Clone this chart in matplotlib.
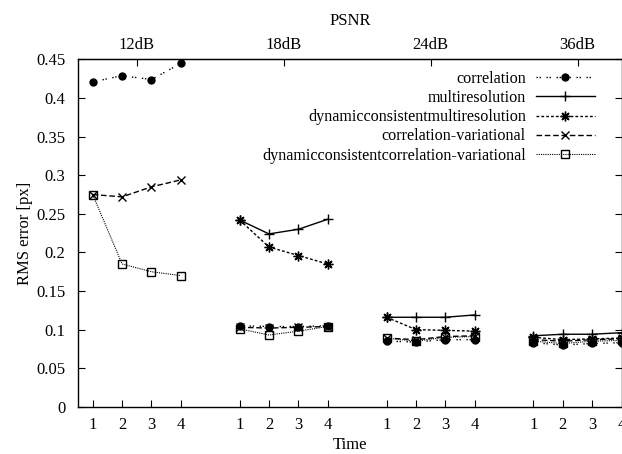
import numpy as np
import matplotlib
matplotlib.use('Agg')
import matplotlib.pyplot as plt

plt.rcParams['font.family'] = ['Liberation Serif', 'DejaVu Serif']
plt.rcParams['font.size'] = 12

# データ
psnr = ['12dB', '18dB', '24dB', '36dB']
times = [1, 2, 3, 4]

correlation = [[0.421, 0.429, 0.424, 0.445],
               [0.105, 0.104, 0.104, 0.105],
               [0.085, 0.084, 0.087, 0.087],
               [0.083, 0.080, 0.082, 0.083]]
multiresolution = [None,
                   [0.242, 0.224, 0.230, 0.243],
                   [0.116, 0.116, 0.116, 0.119],
                   [0.092, 0.094, 0.094, 0.096]]
dyn_multires = [None,
                [0.242, 0.207, 0.196, 0.185],
                [0.116, 0.100, 0.099, 0.098],
                [0.090, 0.087, 0.088, 0.089]]
corr_var = [[0.275, 0.272, 0.285, 0.294],
            [0.103, 0.102, 0.103, 0.104],
            [0.089, 0.087, 0.091, 0.092],
            [0.087, 0.085, 0.087, 0.088]]
dyn_corr_var = [[0.275, 0.185, 0.175, 0.170],
                [0.101, 0.093, 0.098, 0.104],
                [0.089, 0.085, 0.090, 0.091],
                [0.085, 0.082, 0.085, 0.086]]

series = [
    ('correlation', correlation, dict(dashes=(1, 1.2, 1, 4), marker='o', ms=5, mfc='black')),
    ('multiresolution', multiresolution, dict(ls='-', marker='+', ms=7, mew=1)),
    ('dynamicconsistentmultiresolution', dyn_multires, dict(dashes=(2, 1.5), marker=(8, 2, 0), ms=7, mew=1)),
    ('correlation-variational', corr_var, dict(dashes=(4, 2), marker='x', ms=6, mew=1)),
    ('dynamicconsistentcorrelation-variational', dyn_corr_var, dict(dashes=(1, 1), marker='s', ms=6, mfc='none', mew=1)),
]
widths = [1.0, 1.0, 1.0, 1.0, 0.8]

gap = 5
fig = plt.figure(figsize=(6.22, 4.54), dpi=100)
ax = fig.add_axes([0.1254, 0.104, 0.874, 0.765])

for (name, vals, st), lw in zip(series, widths):
    first = True
    for g, v in enumerate(vals):
        if v is None:
            continue
        x = np.array(times) + g * gap
        ax.plot(x, v, color='black', lw=lw, label=name if first else None, **st)
        first = False

ax.set_xlim(0.5, 19.0)
ax.set_ylim(0, 0.45)
ax.set_yticks(np.arange(0, 0.451, 0.05))
ax.set_yticklabels(['0', '0.05', '0.1', '0.15', '0.2', '0.25', '0.3', '0.35', '0.4', '0.45'])
xt = [t + g * gap for g in range(4) for t in times]
ax.set_xticks(xt)
ax.set_xticklabels([str(t) for g in range(4) for t in times])
ax.tick_params(axis='x', direction='in', length=5, pad=7)
ax.tick_params(axis='y', direction='in', length=5, pad=9, right=True)
ax.set_xlabel('Time', labelpad=3)
ax.set_ylabel('RMS error [px]', labelpad=2)

top = ax.secondary_xaxis('top')
top.set_xticks([2.5 + g * gap for g in range(4)])
top.set_xticklabels(psnr)
top.tick_params(direction='in', length=5, pad=5)
top.set_xlabel('PSNR', labelpad=8)

for s in ax.spines.values():
    s.set_linewidth(1.0)

ax.legend(loc='upper right', bbox_to_anchor=(0.972, 1.0), frameon=False,
          markerfirst=False, handlelength=3.7, numpoints=1, labelspacing=0.2,
          handletextpad=0.6, borderaxespad=0.3, fontsize=11.6)

fig.savefig('out.png', dpi=100)
